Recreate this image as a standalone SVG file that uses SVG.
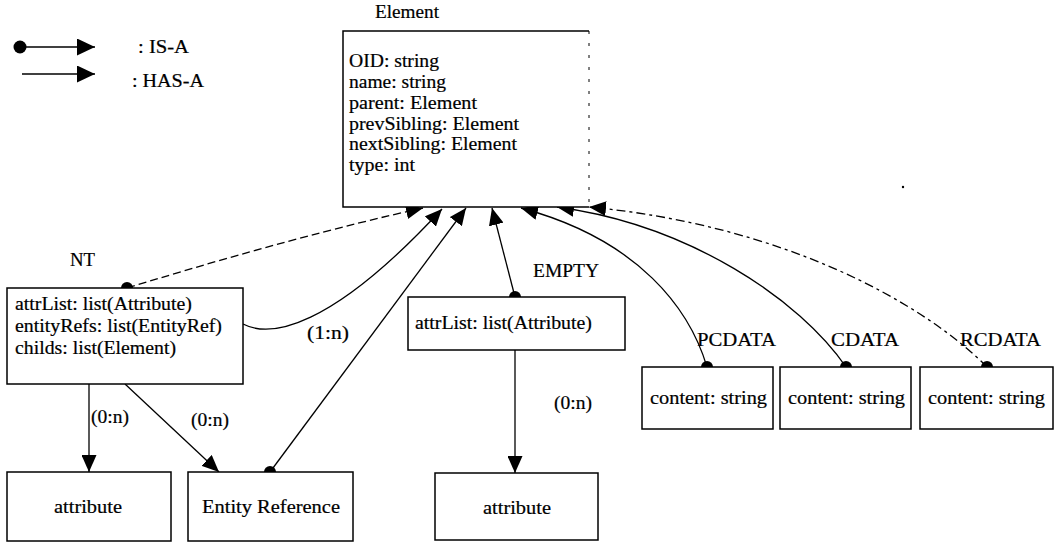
<svg xmlns="http://www.w3.org/2000/svg" width="1055" height="545" viewBox="0 0 1055 545">
  <style>
    text { font-family: "Liberation Serif", "Times New Roman", serif; font-size: 18px; fill: #000; stroke: #000; stroke-width: 0.2; }
    .mid { text-anchor: middle; }
    .box { fill: #fff; stroke: #000; stroke-width: 1.5; }
    .edge { fill: none; stroke: #000; stroke-width: 1.3; }
    .dashed { stroke-dasharray: 8 4; }
    .dashdot { stroke-dasharray: 9 4 3 4; }
    .dot { fill: #000; }
  </style>
  <defs>
    <marker id="head" viewBox="0 0 17 15" refX="17" refY="7.5" markerWidth="17" markerHeight="15" markerUnits="userSpaceOnUse" orient="auto">
      <path d="M0,0 L17,7.5 L0,15 z" fill="#000"/>
    </marker>
    <marker id="headBig" viewBox="0 0 18 17" refX="18" refY="8.5" markerWidth="18" markerHeight="17" markerUnits="userSpaceOnUse" orient="auto">
      <path d="M0,0 L18,8.5 L0,17 z" fill="#000"/>
    </marker>
  </defs>

  <!-- legend -->
  <g id="legend">
    <circle class="dot" cx="20" cy="47" r="6.5"/>
    <line class="edge" x1="20" y1="47" x2="95" y2="47" stroke-width="2" marker-end="url(#headBig)"/>
    <text x="138" y="53" textLength="51" lengthAdjust="spacingAndGlyphs">: IS-A</text>
    <line class="edge" x1="22" y1="74" x2="95" y2="74" stroke-width="2" marker-end="url(#headBig)"/>
    <text x="132" y="87" textLength="72" lengthAdjust="spacingAndGlyphs">: HAS-A</text>
  </g>

  <!-- connectors -->
  <g id="connectors">
    <!-- IS-A links into Element -->
    <path class="edge dashed" d="M127,288 Q300,235 423,208" marker-end="url(#head)"/>
    <path class="edge" d="M243,324 C270,338 330,330 442,209" marker-end="url(#head)"/>
    <path class="edge" d="M270,472 L466,208" marker-end="url(#head)"/>
    <path class="edge" d="M515,297 L492,208" marker-end="url(#head)"/>
    <path class="edge" d="M707,367 C690,310 640,240 521,208" marker-end="url(#head)"/>
    <path class="edge" d="M846,367 C800,300 690,225 557,207" marker-end="url(#head)"/>
    <path class="edge dashdot" d="M987,367 C920,300 780,225 589,207" marker-end="url(#head)"/>
    <!-- HAS-A links -->
    <path class="edge" d="M89,384 L89,472" marker-end="url(#head)"/>
    <path class="edge" d="M125,384 L219,472" marker-end="url(#head)"/>
    <path class="edge" d="M515,350 L515,473" marker-end="url(#head)"/>
    <!-- IS-A origin dots -->
    <circle class="dot" cx="127" cy="288" r="6"/>
    <circle class="dot" cx="270" cy="472" r="6"/>
    <circle class="dot" cx="515" cy="297" r="6"/>
    <circle class="dot" cx="707" cy="367" r="6"/>
    <circle class="dot" cx="846" cy="367" r="6"/>
    <circle class="dot" cx="987" cy="367" r="6"/>
    <!-- cardinalities -->
    <text x="307" y="339" textLength="42" lengthAdjust="spacingAndGlyphs">(1:n)</text>
    <text x="91" y="423" textLength="38" lengthAdjust="spacingAndGlyphs">(0:n)</text>
    <text x="191" y="426" textLength="38" lengthAdjust="spacingAndGlyphs">(0:n)</text>
    <text x="554" y="409" textLength="38" lengthAdjust="spacingAndGlyphs">(0:n)</text>
  </g>

  <!-- Element -->
  <g id="element">
    <text x="375" y="18" textLength="64" lengthAdjust="spacingAndGlyphs">Element</text>
    <rect x="343" y="31" width="246" height="176" fill="#fff"/>
    <path d="M589,31 L343,31 L343,207 L589,207" fill="none" stroke="#000" stroke-width="1.5"/>
    <path d="M589,31 L589,207" fill="none" stroke="#000" stroke-width="1" stroke-dasharray="3 9"/>
    <text x="349" y="67" textLength="90" lengthAdjust="spacingAndGlyphs">OID: string</text>
    <text x="349" y="88" textLength="97" lengthAdjust="spacingAndGlyphs">name: string</text>
    <text x="349" y="109" textLength="128" lengthAdjust="spacingAndGlyphs">parent: Element</text>
    <text x="349" y="130" textLength="170" lengthAdjust="spacingAndGlyphs">prevSibling: Element</text>
    <text x="349" y="150" textLength="168" lengthAdjust="spacingAndGlyphs">nextSibling: Element</text>
    <text x="349" y="171" textLength="66" lengthAdjust="spacingAndGlyphs">type: int</text>
  </g>

  <!-- NT -->
  <g id="nt">
    <text x="70" y="266" textLength="25" lengthAdjust="spacingAndGlyphs">NT</text>
    <rect class="box" x="7" y="288" width="236" height="96" fill="none"/>
    <text x="15" y="310" textLength="177" lengthAdjust="spacingAndGlyphs">attrList: list(Attribute)</text>
    <text x="15" y="332" textLength="207" lengthAdjust="spacingAndGlyphs">entityRefs: list(EntityRef)</text>
    <text x="15" y="354" textLength="161" lengthAdjust="spacingAndGlyphs">childs: list(Element)</text>
  </g>

  <!-- EMPTY -->
  <g id="empty">
    <text x="533" y="277" textLength="66" lengthAdjust="spacingAndGlyphs">EMPTY</text>
    <rect class="box" x="408" y="297" width="217" height="53" fill="none"/>
    <text x="415" y="329" textLength="177" lengthAdjust="spacingAndGlyphs">attrList: list(Attribute)</text>
  </g>

  <!-- PCDATA / CDATA / RCDATA -->
  <g id="pcdata">
    <text x="697" y="346" textLength="79" lengthAdjust="spacingAndGlyphs">PCDATA</text>
    <rect class="box" x="642" y="367" width="131" height="62" fill="none"/>
    <text x="650" y="404" textLength="117" lengthAdjust="spacingAndGlyphs">content: string</text>
  </g>
  <g id="cdata">
    <text x="831" y="346" textLength="68" lengthAdjust="spacingAndGlyphs">CDATA</text>
    <rect class="box" x="780" y="367" width="131" height="62" fill="none"/>
    <text x="788" y="404" textLength="117" lengthAdjust="spacingAndGlyphs">content: string</text>
  </g>
  <g id="rcdata">
    <text x="960" y="346" textLength="81" lengthAdjust="spacingAndGlyphs">RCDATA</text>
    <rect class="box" x="920" y="367" width="133" height="62" fill="none"/>
    <text x="928" y="404" textLength="117" lengthAdjust="spacingAndGlyphs">content: string</text>
  </g>

  <!-- bottom row -->
  <g id="attribute-nt">
    <rect class="box" x="7" y="472" width="164" height="69" fill="none"/>
    <text class="mid" x="88" y="513" textLength="68" lengthAdjust="spacingAndGlyphs">attribute</text>
  </g>
  <g id="entity-reference">
    <rect class="box" x="188" y="472" width="165" height="69" fill="none"/>
    <text class="mid" x="271" y="513" textLength="138" lengthAdjust="spacingAndGlyphs">Entity Reference</text>
  </g>
  <g id="attribute-empty">
    <rect class="box" x="435" y="473" width="163" height="67" fill="none"/>
    <text class="mid" x="517" y="514" textLength="68" lengthAdjust="spacingAndGlyphs">attribute</text>
  </g>

  <circle cx="903" cy="187" r="1.2" fill="#000"/>
</svg>
